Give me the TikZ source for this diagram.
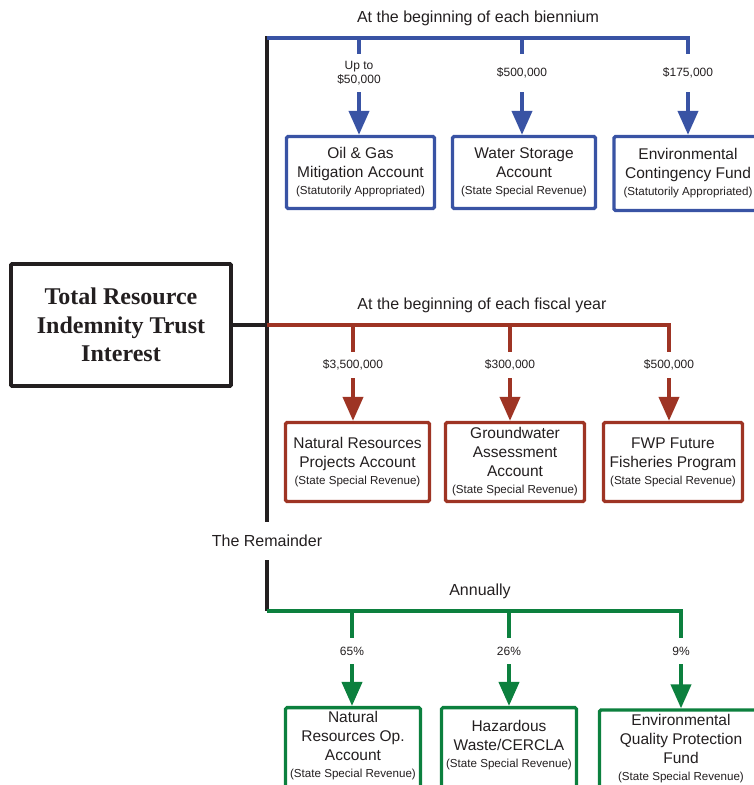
\documentclass[tikz,border=0pt]{standalone}
\usepackage{fontspec}
\setmainfont{Liberation Sans}
\newfontfamily\titlefont{Liberation Serif}
\usetikzlibrary{positioning,arrows.meta}
\definecolor{ink}{RGB}{35,31,32}
\definecolor{trustblue}{RGB}{57,83,164}
\definecolor{trustred}{RGB}{158,52,36}
\definecolor{trustgreen}{RGB}{12,128,62}
\newcommand{\fundnote}[1]{\\[-2pt]{\fontsize{11.6}{13}\selectfont(#1)}}

\begin{document}
\begin{tikzpicture}[x=1pt, y=-1pt,
  acct/.style={draw=#1, line width=3.3pt, rounded corners=1.5pt, align=center, inner sep=2pt, fill=white, text=ink, font=\fontsize{15.5}{19}\selectfont},
  amt/.style={align=center, inner sep=0pt, minimum height=26pt, text=ink, font=\fontsize{12}{14.5}\selectfont},
  hdr/.style={text=ink, inner sep=0pt, font=\fontsize{16}{19}\selectfont},
  bus/.style={line width=4pt}, spine/.style={line width=4pt, ink},
  drop/.style={line width=4pt, -{Triangle[width=20pt,length=24pt]}}]
\useasboundingbox (0,0) rectangle (754,785);
% source
\node[draw, ink, line width=3.8pt, rounded corners=1pt, minimum width=220pt, minimum height=122pt, align=center,
  font=\titlefont\bfseries\fontsize{24}{28.5}\selectfont] (trust) at (121,325) {Total Resource\\Indemnity Trust\\Interest};
\coordinate (top) at (267,38); \coordinate (fjunc) at (267,325); \coordinate (gjunc) at (267,611);
\node[hdr, minimum height=38pt] (rem) at (267,541) {The Remainder};
\draw[spine] (267,36) -- (rem.north); \draw[spine] (rem.south) -- (gjunc);

% biennium
\node[hdr] (biennium) at (478,18) {At the beginning of each biennium};
\node[amt, minimum height=38pt] (bl1) at (359,73) {Up to\\\$50,000};
\node[amt, minimum height=38pt] (bl2) at (522,73) {\$500,000};
\node[amt, minimum height=38pt] (bl3) at (688,73) {\$175,000};
\node[acct=trustblue, minimum width=148pt, minimum height=72pt] (oilgas) at (360.5,172.5) {Oil \& Gas\\Mitigation Account\fundnote{Statutorily Appropriated}};
\node[acct=trustblue, minimum width=143pt, minimum height=72pt] (water) at (524,172.5) {Water Storage\\Account\fundnote{State Special Revenue}};
\node[acct=trustblue, minimum width=148pt, minimum height=74pt] (contin) at (688,173.5) {Environmental\\Contingency Fund\fundnote{Statutorily Appropriated}};
\draw[bus, trustblue] (top) -| (bl3.north); \draw[bus, trustblue] (bl1.north |- top) -- (bl1.north); \draw[bus, trustblue] (bl2.north |- top) -- (bl2.north);
\draw[drop, trustblue] (bl1.south) -- (bl1.south |- oilgas.north);
\draw[drop, trustblue] (bl2.south) -- (bl2.south |- water.north);
\draw[drop, trustblue] (bl3.south) -- (bl3.south |- contin.north);

% fiscal year
\node[hdr] (fiscal) at (482,305) {At the beginning of each fiscal year};
\node[amt] (rl1) at (353,365) {\$3,500,000}; \node[amt] (rl2) at (510,365) {\$300,000}; \node[amt] (rl3) at (669,365) {\$500,000};
\node[acct=trustred, minimum width=144pt, minimum height=79pt] (nrproj) at (357.5,462) {Natural Resources\\Projects Account\fundnote{State Special Revenue}};
\node[acct=trustred, minimum width=139pt, minimum height=79pt] (ground) at (515,462) {Groundwater\\Assessment\\Account\fundnote{State Special Revenue}};
\node[acct=trustred, minimum width=139pt, minimum height=79pt] (fwp) at (673,462) {FWP Future\\Fisheries Program\fundnote{State Special Revenue}};
\draw[bus, trustred] (fjunc) -| (rl3.north); \draw[bus, trustred] (rl1.north |- fjunc) -- (rl1.north); \draw[bus, trustred] (rl2.north |- fjunc) -- (rl2.north);
\draw[drop, trustred] (rl1.south) -- (rl1.south |- nrproj.north);
\draw[drop, trustred] (rl2.south) -- (rl2.south |- ground.north);
\draw[drop, trustred] (rl3.south) -- (rl3.south |- fwp.north);
\draw[spine] (trust.east) -- (fjunc);

% annually
\node[hdr] (annual) at (480,591) {Annually};
\node[amt] (gl1) at (352,651) {65\%}; \node[amt] (gl2) at (509,651) {26\%}; \node[amt] (gl3) at (681,651) {9\%};
\node[acct=trustgreen, minimum width=135pt, minimum height=90pt, text depth=17pt] (nrop) at (353,752.6) {Natural\\Resources Op.\\Account\fundnote{State Special Revenue}};
\node[acct=trustgreen, minimum width=135pt, minimum height=90pt, text depth=17pt] (cercla) at (509,752.6) {Hazardous\\Waste/CERCLA\fundnote{State Special Revenue}};
\node[acct=trustgreen, minimum width=163pt, minimum height=90pt, text depth=16pt] (eqpf) at (681,755) {Environmental\\Quality Protection\\Fund\fundnote{State Special Revenue}};
\draw[bus, trustgreen] (gjunc) -| (gl3.north); \draw[bus, trustgreen] (gl1.north |- gjunc) -- (gl1.north); \draw[bus, trustgreen] (gl2.north |- gjunc) -- (gl2.north);
\draw[drop, trustgreen] (gl1.south) -- (gl1.south |- nrop.north);
\draw[drop, trustgreen] (gl2.south) -- (gl2.south |- cercla.north);
\draw[drop, trustgreen] (gl3.south) -- (gl3.south |- eqpf.north);
\end{tikzpicture}
\end{document}
